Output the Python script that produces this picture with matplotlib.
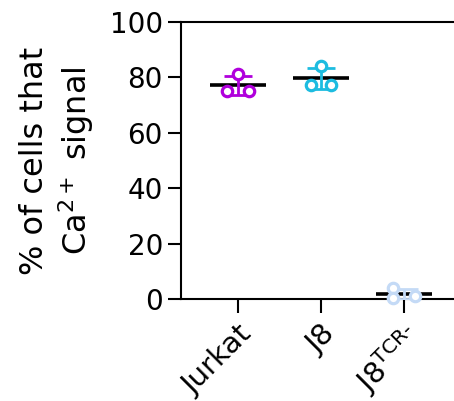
import numpy as np
import matplotlib
matplotlib.use("Agg")
import matplotlib.pyplot as plt

# data
groups = ["Jurkat", "J8", "J8$^{\\mathrm{TCR‐}}$"]
jurkat = [75.2, 81.2, 75.2]
j8 = [77.4, 84.1, 77.4]
j8_tcr = [3.8, 1.0, 0.3]
colors = ["#B000DC", "#1DBCE0", "#C4DAF6"]

# horizontal spread of the replicate dots inside each group
offsets = [[-0.13, 0.0, 0.13], [-0.12, 0.0, 0.12], [-0.13, 0.13, -0.13]]

plt.rcParams["font.family"] = "DejaVu Sans"
fig = plt.figure(figsize=(4.54, 4.01), dpi=100)
ax = fig.add_axes([0.3987, 0.2544, 0.6013, 0.6908])

for i, (vals, c) in enumerate(zip([jurkat, j8, j8_tcr], colors)):
    vals = np.array(vals)
    m = vals.mean()
    sd = vals.std(ddof=1)
    ax.plot([i - 0.34, i + 0.34], [m, m], color="black", lw=2.6,
            solid_capstyle="butt", zorder=2)
    ax.errorbar(i, m, yerr=sd, color=c, lw=2.0, capsize=10, capthick=2.0,
                zorder=3)
    ax.plot(i + np.array(offsets[i]), vals, "o", ms=7.5, mew=2.3, mfc="white",
            mec=c, zorder=4, clip_on=False)

ax.set_xlim(-0.687, 2.602)
ax.set_ylim(0, 100)
ax.set_yticks([0, 20, 40, 60, 80, 100])
ax.set_xticks(range(len(groups)))
ax.set_xticklabels(groups, rotation=45, ha="right", va="top",
                   rotation_mode="anchor", fontsize=21)
ax.tick_params(axis="y", labelsize=20, length=9.5, width=1.5, pad=3.5)
ax.tick_params(axis="x", length=10, width=1.5, pad=5)
ax.spines["right"].set_visible(False)
for s in ["left", "top", "bottom"]:
    ax.spines[s].set_linewidth(1.5)

ax.set_ylabel("% of cells that\nCa$^{2+}$ signal", fontsize=23, labelpad=10)

fig.savefig("out.png", dpi=100)
